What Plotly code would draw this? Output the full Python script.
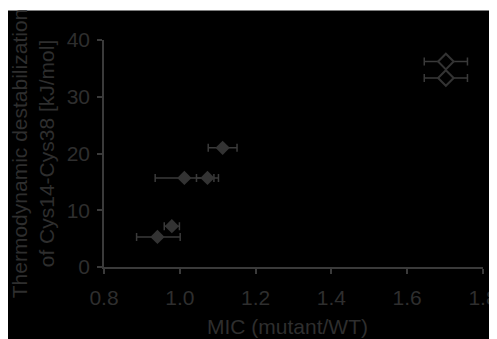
import plotly.graph_objects as go

# Filled markers
mic_filled = [0.941, 0.979, 1.012, 1.073, 1.113]
dG_filled = [5.3, 7.2, 15.7, 15.7, 21.0]
err_plus_filled = [0.060, 0.020, 0.078, 0.029, 0.038]
err_minus_filled = [0.055, 0.020, 0.077, 0.029, 0.038]

# Open markers
mic_open = [1.702, 1.702]
dG_open = [36.2, 33.3]
err_open = [0.057, 0.057]

x_ticks = [0.8, 1.0, 1.2, 1.4, 1.6, 1.8]
x_ticklabels = ["0.8", "1.0", "1.2", "1.4", "1.6", "1.8"]
y_ticks = [0, 10, 20, 30, 40]

x_title = "MIC (mutant/WT)"
y_title = "Thermodynamic destabilization<br>of Cys14-Cys38 [kJ/mol]"

TXT = "#2e2e2e"
LINE = "#3a3a3a"
MK = "#333333"
FONT = "Liberation Sans, Arial, sans-serif"
FS = 21

fig = go.Figure()
fig.add_trace(go.Scatter(
    x=mic_filled, y=dG_filled, mode="markers",
    marker=dict(symbol="diamond", size=11, color=MK, line=dict(width=0)),
    error_x=dict(type="data", symmetric=False, array=err_plus_filled,
                 arrayminus=err_minus_filled, color=LINE, thickness=1.5, width=4),
    showlegend=False,
))
fig.add_trace(go.Scatter(
    x=mic_open, y=dG_open, mode="markers",
    marker=dict(symbol="diamond", size=12, color="black", line=dict(width=2, color=MK)),
    error_x=dict(type="data", array=err_open, color=LINE, thickness=1.5, width=4),
    showlegend=False,
))

# page has an 8px body margin (figure offset by 8px in the window)
W, H = 497, 339
L, T = 96, 31.5
pw, ph = 379, 227.5
R = W - L - pw
B = H - T - ph
fig.add_shape(type="rect", xref="paper", yref="paper",
              x0=-L / pw, x1=(W - L) / pw,
              y0=-B / ph, y1=(H - B - 2) / ph,
              fillcolor="black", line=dict(width=0), layer="below")

fig.add_annotation(text=x_title, xref="paper", yref="paper",
                   x=0.484, y=-60 / ph, xanchor="center", yanchor="middle",
                   showarrow=False, font=dict(size=FS, color=TXT, family=FONT))

fig.update_layout(
    width=W, height=H,
    margin=dict(l=L, r=R, t=T, b=B, pad=0, autoexpand=False),
    paper_bgcolor="white", plot_bgcolor="black",
    font=dict(family=FONT, size=FS, color=TXT),
    xaxis=dict(range=[0.8, 1.8], tickvals=x_ticks, ticktext=x_ticklabels,
               automargin=False, ticklabelstandoff=6,
               showgrid=False, zeroline=False, showline=True, linecolor=LINE,
               linewidth=1.5, ticks="outside", ticklen=5, tickcolor=LINE,
               tickwidth=1.5, tickfont=dict(size=FS, color=TXT)),
    yaxis=dict(range=[0, 40], tickvals=y_ticks, automargin=False,
               ticklabelstandoff=3,
               showgrid=False, zeroline=False, showline=True, linecolor=LINE,
               linewidth=1.5, ticks="outside", ticklen=5, tickcolor=LINE,
               tickwidth=1.5, tickfont=dict(size=FS, color=TXT),
               title=dict(text=y_title, font=dict(size=FS, color=TXT), standoff=12)),
)

fig.write_html("out.html")
